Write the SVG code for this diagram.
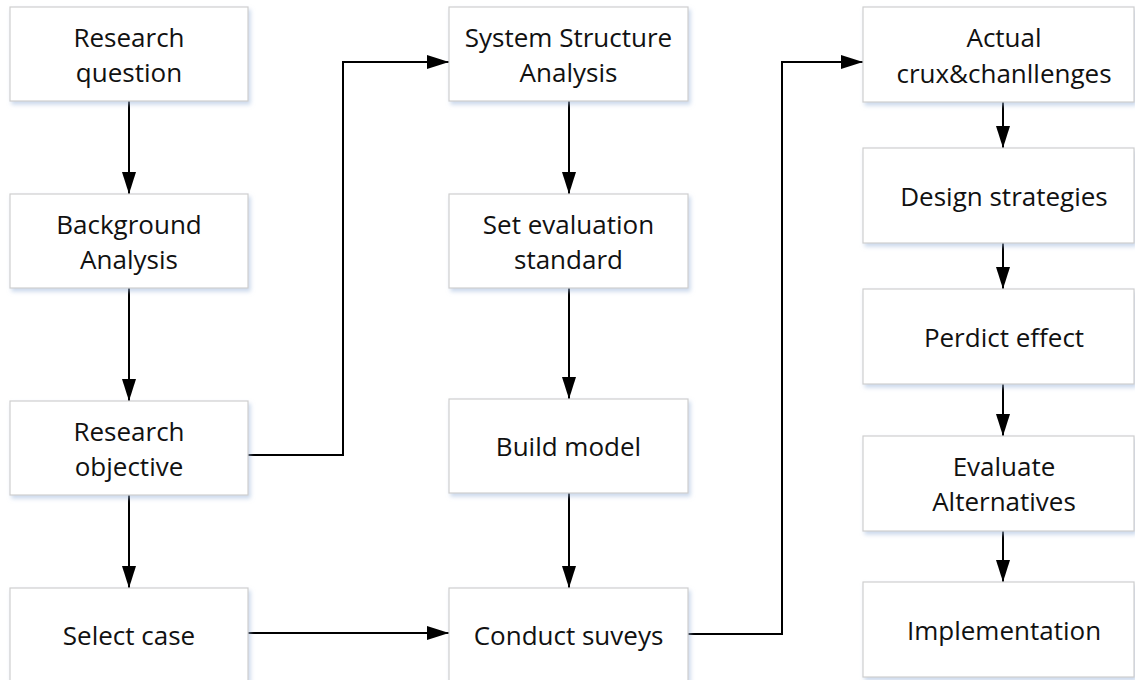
<svg xmlns="http://www.w3.org/2000/svg" width="1135" height="680" viewBox="0 0 1135 680">
  <style>
    .box { fill: #ffffff; stroke: #cfcfcf; stroke-width: 1.2; filter: url(#shadow); }
    .label { font-family: "Open Sans", "Noto Sans", "DejaVu Sans", sans-serif; font-size: 26px; fill: #111111; text-anchor: middle; }
    .edge { fill: none; stroke: #000000; stroke-width: 2; marker-end: url(#arrow); }
  </style>
  <defs>
    <filter id="shadow" x="-5%" y="-5%" width="112%" height="120%">
      <feDropShadow dx="2" dy="3" stdDeviation="2" flood-color="#9fb8dc" flood-opacity="0.55"/>
    </filter>
    <marker id="arrow" markerUnits="userSpaceOnUse" markerWidth="22" markerHeight="14" refX="22" refY="7" orient="auto">
      <path d="M0,0 L22,7 L0,14 Z" fill="#000000"/>
    </marker>
  </defs>
  <rect width="1135" height="680" fill="#ffffff"/>

  <!-- connectors -->
  <g id="connectors">
    <path class="edge" d="M129,101 V194"/>
    <path class="edge" d="M129,288 V401"/>
    <path class="edge" d="M129,495 V588"/>
    <path class="edge" d="M248,455 H343 V62 H449"/>
    <path class="edge" d="M248,633 H449"/>
    <path class="edge" d="M569,101 V194"/>
    <path class="edge" d="M569,288 V399"/>
    <path class="edge" d="M569,493 V588"/>
    <path class="edge" d="M688,634 H782 V62 H863"/>
    <path class="edge" d="M1003,102 V148"/>
    <path class="edge" d="M1003,243 V289"/>
    <path class="edge" d="M1003,384 V436"/>
    <path class="edge" d="M1003,531 V582"/>
  </g>

  <!-- left column -->
  <g id="research-question">
    <rect class="box" x="10" y="7" width="238" height="94"/>
    <text class="label" x="129" y="47">Research</text>
    <text class="label" x="129" y="82">question</text>
  </g>
  <g id="background-analysis">
    <rect class="box" x="10" y="194" width="238" height="94"/>
    <text class="label" x="129" y="234">Background</text>
    <text class="label" x="129" y="269">Analysis</text>
  </g>
  <g id="research-objective">
    <rect class="box" x="10" y="401" width="238" height="94"/>
    <text class="label" x="129" y="441">Research</text>
    <text class="label" x="129" y="476">objective</text>
  </g>
  <g id="select-case">
    <rect class="box" x="10" y="588" width="238" height="94"/>
    <text class="label" x="129" y="645">Select case</text>
  </g>

  <!-- middle column -->
  <g id="system-structure-analysis">
    <rect class="box" x="449" y="7" width="239" height="94"/>
    <text class="label" x="568.5" y="47">System Structure</text>
    <text class="label" x="568.5" y="82">Analysis</text>
  </g>
  <g id="set-evaluation-standard">
    <rect class="box" x="449" y="194" width="239" height="94"/>
    <text class="label" x="568.5" y="234">Set evaluation</text>
    <text class="label" x="568.5" y="269">standard</text>
  </g>
  <g id="build-model">
    <rect class="box" x="449" y="399" width="239" height="94"/>
    <text class="label" x="568.5" y="456">Build model</text>
  </g>
  <g id="conduct-surveys">
    <rect class="box" x="449" y="588" width="239" height="94"/>
    <text class="label" x="568.5" y="645">Conduct suveys</text>
  </g>

  <!-- right column -->
  <g id="actual-crux">
    <rect class="box" x="863" y="7" width="271" height="95"/>
    <text class="label" x="1004" y="47">Actual</text>
    <text class="label" x="1004" y="83">crux&amp;chanllenges</text>
  </g>
  <g id="design-strategies">
    <rect class="box" x="863" y="148" width="271" height="95"/>
    <text class="label" x="1004" y="206">Design strategies</text>
  </g>
  <g id="predict-effect">
    <rect class="box" x="863" y="289" width="271" height="95"/>
    <text class="label" x="1004" y="347">Perdict effect</text>
  </g>
  <g id="evaluate-alternatives">
    <rect class="box" x="863" y="436" width="271" height="95"/>
    <text class="label" x="1004" y="476">Evaluate</text>
    <text class="label" x="1004" y="511">Alternatives</text>
  </g>
  <g id="implementation">
    <rect class="box" x="863" y="582" width="271" height="95"/>
    <text class="label" x="1004" y="640">Implementation</text>
  </g>
</svg>
